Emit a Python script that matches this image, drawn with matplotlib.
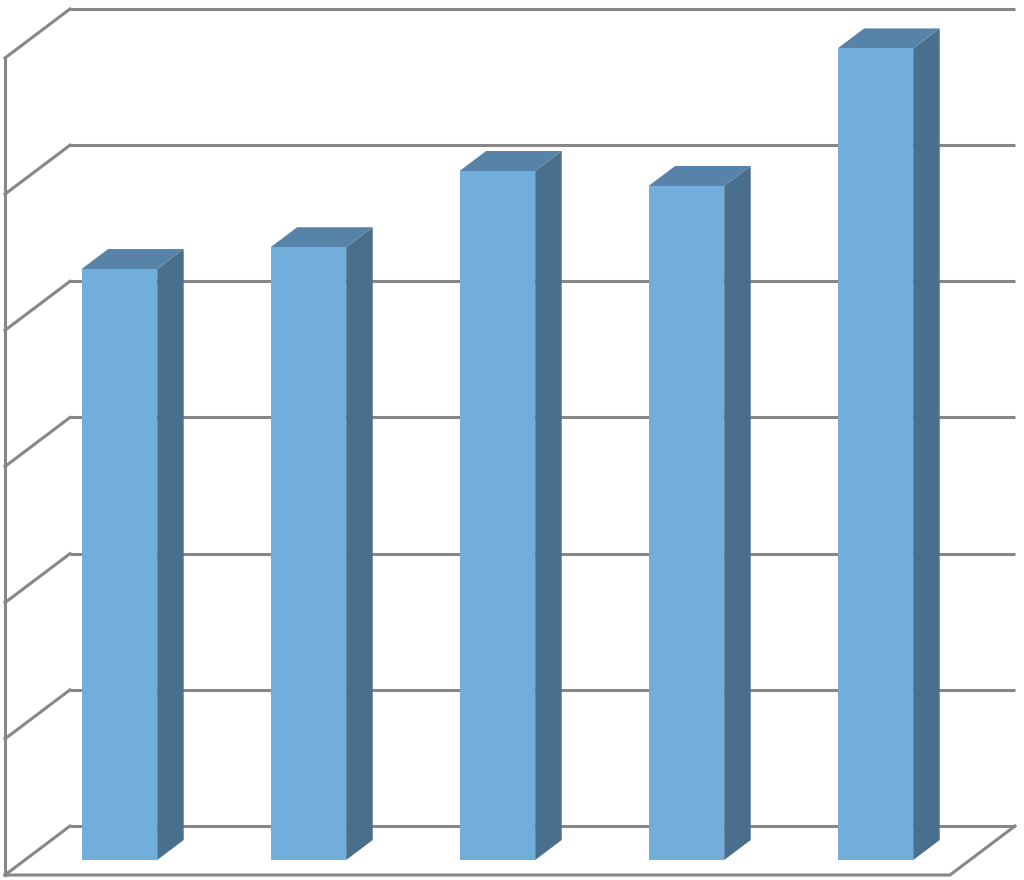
import matplotlib
matplotlib.use("Agg")
import matplotlib.pyplot as plt
from matplotlib.patches import Polygon

# ---- data ----
categories = ["A", "B", "C", "D", "E"]
values = [4.34, 4.50, 5.06, 4.95, 5.96]
ticks = [0, 1, 2, 3, 4, 5, 6]

# ---- styling / projection parameters ----
W, H = 1024, 880
px_cat = 189.0          # pixels per category
px_val = 136.17         # pixels per value unit
ddx = 65 / px_cat       # depth offset (full depth) in category units
ddy = 49 / px_val       # depth offset in value units
bar_w = 0.4
d_front, d_back = 0.306, 0.714

front_c = "#72AEDB"
top_c = "#5783A9"
side_c = "#4A6F8D"
grid_c = "#878787"
lw = 2.2


def P(x, v, d):
    return (x + d * ddx, v + d * ddy)


fig = plt.figure(figsize=(W / 100, H / 100), dpi=100)
ax = fig.add_axes([0, 0, 1, 1])
ax.set_xlim(-5 / px_cat, (W - 5) / px_cat)
ax.set_ylim(-5 / px_val, (H - 5) / px_val)
ax.axis("off")

n = len(categories)
vmax = ticks[-1]

# back wall gridlines and left wall diagonals
for t in ticks:
    x0, y0 = P(0, t, 1)
    x1, y1 = P(n, t, 1)
    ax.plot([x0, x1], [y0, y1], color=grid_c, lw=lw, solid_capstyle="butt", zorder=1)
    a = P(0, t, 0)
    b = P(0, t, 1)
    ax.plot([a[0], b[0]], [a[1], b[1]], color=grid_c, lw=lw, zorder=1)

# left wall front vertical edge
a = P(0, 0, 0)
b = P(0, vmax, 0)
ax.plot([a[0], b[0]], [a[1], b[1]], color=grid_c, lw=lw, zorder=1)

# floor front edge and right diagonal
a = P(0, 0, 0)
b = P(n, 0, 0)
c = P(n, 0, 1)
ax.plot([a[0], b[0], c[0]], [a[1], b[1], c[1]], color=grid_c, lw=lw, zorder=1,
        solid_joinstyle="miter")

# bars
for i, v in enumerate(values):
    xl = i + 0.5 - bar_w / 2
    xr = i + 0.5 + bar_w / 2
    front = [P(xl, 0, d_front), P(xr, 0, d_front), P(xr, v, d_front), P(xl, v, d_front)]
    side = [P(xr, 0, d_front), P(xr, 0, d_back), P(xr, v, d_back), P(xr, v, d_front)]
    top = [P(xl, v, d_front), P(xr, v, d_front), P(xr, v, d_back), P(xl, v, d_back)]
    ax.add_patch(Polygon(side, closed=True, facecolor=side_c, edgecolor="none", zorder=3))
    ax.add_patch(Polygon(top, closed=True, facecolor=top_c, edgecolor="none", zorder=3))
    ax.add_patch(Polygon(front, closed=True, facecolor=front_c, edgecolor="none", zorder=4))

fig.savefig("out.png", dpi=100)
